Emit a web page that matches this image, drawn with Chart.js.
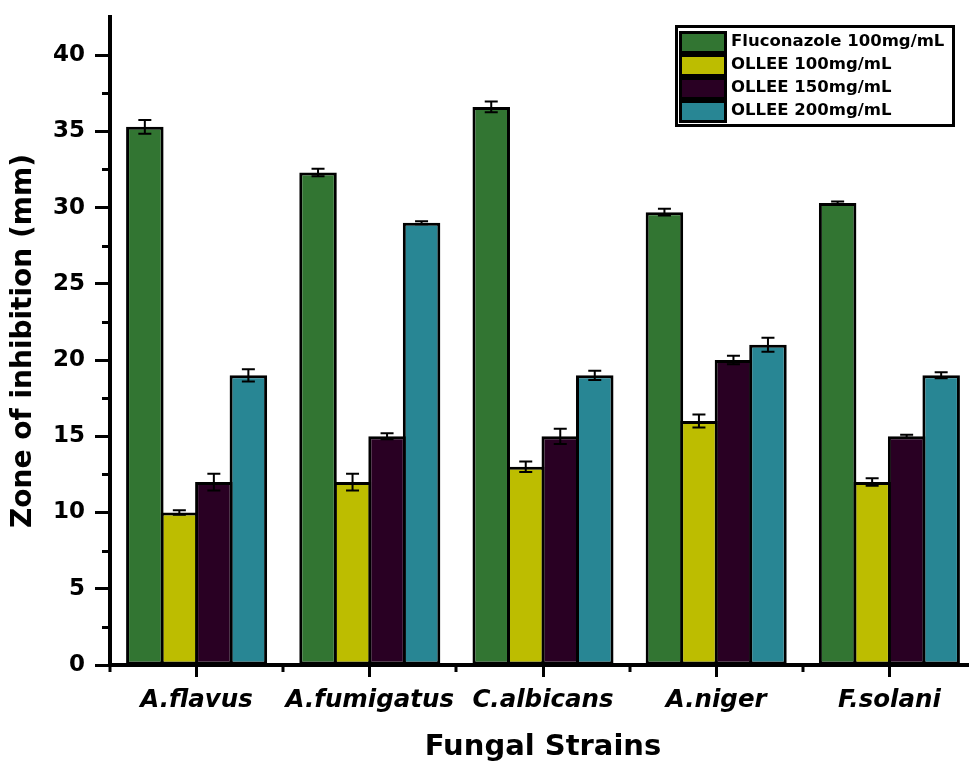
<!DOCTYPE html>
<html>
<head>
<meta charset="utf-8">
<title>Zone of inhibition by fungal strain</title>
<script src="https://cdn.jsdelivr.net/npm/chart.js@4.4.1/dist/chart.umd.min.js"></script>
<style>
  html, body { margin: 0; padding: 0; background: #fff; overflow: hidden; }
  #wrap { width: 977px; height: 765px; }
</style>
</head>
<body>
<div id="wrap"><canvas id="chart" width="977" height="765"></canvas></div>
<script>
// Fungal strains tested
const strains = ['A.flavus', 'A.fumigatus', 'C.albicans', 'A.niger', 'F.solani'];

// Mean zone of inhibition (mm)
const fluconazole100 = [35.3, 32.3, 36.6, 29.7, 30.3];
const ollee100       = [10.0, 12.0, 13.0, 16.0, 12.0];
const ollee150       = [12.0, 15.0, 15.0, 20.0, 15.0];
const ollee200       = [19.0, 29.0, 19.0, 21.0, 19.0];

// Standard deviations (mm)
const fluconazole100Err = [0.45, 0.25, 0.35, 0.22, 0.10];
const ollee100Err       = [0.15, 0.55, 0.35, 0.43, 0.25];
const ollee150Err       = [0.55, 0.20, 0.50, 0.28, 0.10];
const ollee200Err       = [0.40, 0.10, 0.30, 0.46, 0.20];

// Y axis range and tick step
const yMin = 0;
const yMax = 42.5;
const yMajorStep = 5;
const yMinorStep = 2.5;

const FONT = "'DejaVu Sans', 'Liberation Sans', Arial, sans-serif";

const seriesNames = ['Fluconazole 100mg/mL', 'OLLEE 100mg/mL', 'OLLEE 150mg/mL', 'OLLEE 200mg/mL'];
const seriesColors = ['#327532', '#bdbd00', '#290023', '#288694'];
const seriesValues = [fluconazole100, ollee100, ollee150, ollee200];
const seriesErrors = [fluconazole100Err, ollee100Err, ollee150Err, ollee200Err];

// Bars slightly wider than their slot so neighbouring outlines merge into one line
const datasets = seriesNames.map((name, i) => ({
  label: name,
  data: seriesValues[i],
  errors: seriesErrors[i],
  backgroundColor: seriesColors[i],
  borderColor: '#000',
  borderWidth: 3,
  borderSkipped: false,
  inflateAmount: 0,
  categoryPercentage: 0.797,
  barPercentage: 1.087
}));

// Error bars with caps, placed through the value scale
const errorBars = {
  id: 'errorBars',
  afterDatasetsDraw(chart) {
    const ctx = chart.ctx;
    const y = chart.scales.y;
    ctx.save();
    ctx.strokeStyle = '#000';
    ctx.lineWidth = 2;
    chart.data.datasets.forEach((ds, di) => {
      const meta = chart.getDatasetMeta(di);
      meta.data.forEach((bar, j) => {
        const v = ds.data[j];
        const e = ds.errors[j];
        const yt = y.getPixelForValue(v + e);
        const yb = y.getPixelForValue(v - e);
        const cap = 6.5;
        ctx.beginPath();
        ctx.moveTo(bar.x, yt); ctx.lineTo(bar.x, yb);
        ctx.moveTo(bar.x - cap, yt); ctx.lineTo(bar.x + cap, yt);
        ctx.moveTo(bar.x - cap, yb); ctx.lineTo(bar.x + cap, yb);
        ctx.stroke();
      });
    });
    ctx.restore();
  }
};

// Short minor ticks on both axes
const minorTicks = {
  id: 'minorTicks',
  afterDraw(chart) {
    const ctx = chart.ctx;
    const x = chart.scales.x;
    const y = chart.scales.y;
    const area = chart.chartArea;
    ctx.save();
    ctx.strokeStyle = '#000';
    ctx.lineWidth = 3;
    ctx.beginPath();
    for (let v = yMin + yMinorStep; v < yMax - 0.01; v += yMajorStep) {
      const py = Math.round(y.getPixelForValue(v)) + 0.5;
      ctx.moveTo(area.left - 8, py);
      ctx.lineTo(area.left, py);
    }
    for (let i = 0; i <= strains.length; i++) {
      const px = Math.round(x.getPixelForValue(i - 0.5));
      ctx.moveTo(px, area.bottom);
      ctx.lineTo(px, area.bottom + 7);
    }
    ctx.stroke();
    ctx.restore();
  }
};

// Boxed legend in the upper right of the plot
const boxedLegend = {
  id: 'boxedLegend',
  afterDraw(chart) {
    const ctx = chart.ctx;
    const bx = 676.5, by = 26.5, bw = 277, bh = 99;
    ctx.save();
    ctx.fillStyle = '#fff';
    ctx.fillRect(bx, by, bw, bh);
    ctx.strokeStyle = '#000';
    ctx.lineWidth = 3;
    ctx.strokeRect(bx, by, bw, bh);
    ctx.font = 'bold 16.5px ' + FONT;
    ctx.textBaseline = 'middle';
    ctx.textAlign = 'left';
    chart.data.datasets.forEach((ds, i) => {
      const top = 32.5 + i * 23;
      ctx.fillStyle = ds.backgroundColor;
      ctx.fillRect(680.5, top, 45, 20);
      ctx.strokeStyle = '#000';
      ctx.lineWidth = 3;
      ctx.strokeRect(680.5, top, 45, 20);
      ctx.fillStyle = '#000';
      ctx.fillText(ds.label, 731, top + 9);
    });
    ctx.restore();
  }
};

new Chart(document.getElementById('chart'), {
  type: 'bar',
  data: { labels: strains, datasets },
  options: {
    responsive: false,
    animation: false,
    layout: { padding: { top: 17, right: 1, left: 0, bottom: 0 } },
    plugins: {
      legend: { display: false },
      tooltip: { enabled: false }
    },
    scales: {
      x: {
        grid: {
          offset: false,
          drawOnChartArea: false,
          drawTicks: true,
          tickLength: 12,
          tickWidth: 3,
          tickColor: '#000'
        },
        border: { display: true, color: '#000', width: 4 },
        ticks: {
          color: '#000',
          font: { family: FONT, size: 24.5, weight: 'bold', style: 'italic' },
          padding: 9,
          maxRotation: 0,
          minRotation: 0,
          autoSkip: false
        },
        title: {
          display: true,
          text: 'Fungal Strains',
          color: '#000',
          font: { family: FONT, size: 29, weight: 'bold' },
          padding: { top: 0, bottom: 0 }
        },
        afterFit(scale) {
          scale.height = 100;
          scale.paddingLeft = 0; scale.paddingRight = 0;
        }
      },
      y: {
        min: yMin,
        max: yMax,
        grid: {
          drawOnChartArea: false,
          drawTicks: true,
          tickLength: 15,
          tickWidth: 3,
          tickColor: (c) => (c.tick && c.tick.value % yMajorStep === 0 ? '#000' : 'rgba(0,0,0,0)')
        },
        border: { display: true, color: '#000', width: 4 },
        ticks: {
          stepSize: yMinorStep,
          color: '#000',
          font: { family: FONT, size: 23, weight: 'bold' },
          padding: 10,
          callback: (v) => (v % yMajorStep === 0 ? v : '')
        },
        title: {
          display: true,
          text: 'Zone of inhibition (mm)',
          color: '#000',
          font: { family: FONT, size: 28, weight: 'bold' },
          padding: { top: 7, bottom: 0 }
        },
        afterFit(scale) {
          scale.width = 110;
          scale.paddingTop = 0; scale.paddingBottom = 0;
        }
      }
    }
  },
  plugins: [errorBars, minorTicks, boxedLegend]
});
</script>
</body>
</html>
